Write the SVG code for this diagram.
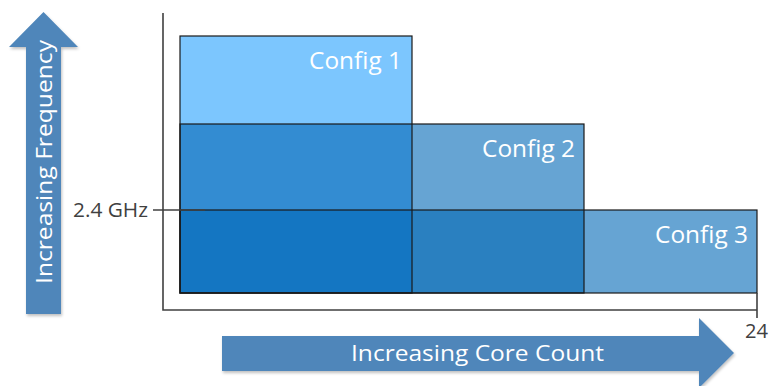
<svg xmlns="http://www.w3.org/2000/svg" width="770" height="386" viewBox="0 0 770 386">
<defs>
<style>
.edge{fill:none;stroke:#1a1a1a;stroke-width:1.2}
.axis{fill:none;stroke:#404040;stroke-width:1.6}
.lbl{font-family:"Open Sans","Liberation Sans",sans-serif;fill:#ffffff}
.cfg{font-size:24px}
.tick{font-family:"Open Sans","Liberation Sans",sans-serif;fill:#404040;font-size:20px}
.arrow{fill:#4F86BA}
</style>
<filter id="sh" x="-10%" y="-10%" width="130%" height="130%">
<feGaussianBlur in="SourceAlpha" stdDeviation="1.5"/>
<feOffset dx="1" dy="2" result="b"/>
<feComponentTransfer><feFuncA type="linear" slope="0.25"/></feComponentTransfer>
<feMerge><feMergeNode/><feMergeNode in="SourceGraphic"/></feMerge>
</filter>
</defs>
<rect width="770" height="386" fill="#ffffff"/>
<g id="freq-arrow">
<polygon class="arrow" filter="url(#sh)" points="43.5,12 78,47 61,47 61,314 26,314 26,47 9,47"/>
<text class="lbl" font-size="21" transform="translate(51.5,284) rotate(-90)" textLength="244" lengthAdjust="spacingAndGlyphs">Increasing Frequency</text>
</g>
<g id="core-arrow">
<polygon class="arrow" filter="url(#sh)" points="222,336 699,336 699,318 734,353 699,388 699,371 222,371"/>
<text class="lbl" font-size="22" x="351" y="361" textLength="253" lengthAdjust="spacingAndGlyphs">Increasing Core Count</text>
</g>
<g id="config1">
<rect x="180" y="36" width="232" height="257" fill="#7CC6FE"/>
</g>
<g id="config2">
<rect x="180" y="124" width="404" height="169" fill="#66A4D3"/>
<rect x="180" y="124" width="232" height="86" fill="#338CD2"/>
</g>
<g id="config3">
<rect x="180" y="210" width="577" height="83" fill="#66A4D3"/>
<rect x="180" y="210" width="232" height="83" fill="#1476C2"/>
<rect x="412" y="210" width="172" height="83" fill="#2A80C0"/>
</g>
<g id="outlines">
<rect class="edge" x="180" y="36" width="232" height="257"/>
<rect class="edge" x="180" y="124" width="404" height="169"/>
<rect class="edge" x="180" y="210" width="577" height="83"/>
</g>
<g id="connectors">
<polyline class="axis" points="163,13 163,310 757,310"/>
<line class="axis" x1="757" y1="293" x2="757" y2="318" stroke-width="1.2"/>
<line class="axis" x1="153" y1="210" x2="205" y2="210" stroke-width="1.2"/>
</g>
<g id="labels">
<text class="lbl cfg" x="309" y="69" textLength="93" lengthAdjust="spacingAndGlyphs">Config 1</text>
<text class="lbl cfg" x="482" y="157" textLength="93" lengthAdjust="spacingAndGlyphs">Config 2</text>
<text class="lbl cfg" x="655" y="243" textLength="93" lengthAdjust="spacingAndGlyphs">Config 3</text>
<text class="tick" x="73" y="217" textLength="75" lengthAdjust="spacingAndGlyphs">2.4 GHz</text>
<text class="tick" x="745" y="338" textLength="23" lengthAdjust="spacingAndGlyphs">24</text>
</g>
</svg>
